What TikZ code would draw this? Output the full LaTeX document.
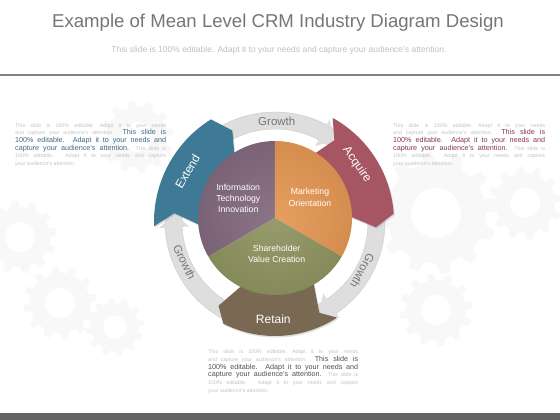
\documentclass[tikz,border=0pt]{standalone}
\usepackage{fontspec}
\setmainfont{Liberation Sans}
\usetikzlibrary{positioning}
\usetikzlibrary{shadows}

\definecolor{titlegray}{RGB}{118,118,118}
\definecolor{subgray}{RGB}{192,192,192}
\definecolor{lighttxt}{RGB}{196,196,196}
\definecolor{ringgray}{RGB}{222,222,222}
\definecolor{ringedge}{RGB}{202,202,202}
\definecolor{extendblue}{RGB}{62,122,150}
\definecolor{acquirered}{RGB}{166,85,98}
\definecolor{retainbrown}{RGB}{122,105,82}
\definecolor{itpurple}{RGB}{132,107,128}
\definecolor{mkorange}{RGB}{230,152,86}
\definecolor{svolive}{RGB}{143,149,98}
\definecolor{bluetxt}{RGB}{60,105,135}
\definecolor{redtxt}{RGB}{135,55,75}
\definecolor{darktxt}{RGB}{80,80,80}
\definecolor{cogfill}{RGB}{248,248,248}
\definecolor{barcol}{RGB}{128,128,128}
\definecolor{footcol}{RGB}{100,100,100}

\newcommand{\hl}[2]{{\color{#1}\fontsize{7.2}{7.7}\selectfont #2}}
\newcommand{\blurbline}[2]{\makebox[#1][s]{#2}\\}
\newcommand{\blurb}[2]{% width, highlight colour
  \frenchspacing
  \blurbline{#1}{This slide is 100\% editable. Adapt it to your needs}
  \blurbline{#1}{and capture your audience's attention. \hl{#2}{This slide is}}
  \blurbline{#1}{\hl{#2}{100\% editable. Adapt it to your needs and}}
  \blurbline{#1}{\hl{#2}{capture your audience's attention.} This slide is}
  \blurbline{#1}{100\% editable. Adapt it to your needs and capture}
  your audience's attention.}
% start angle, end angle, inner radius, outer radius
\newcommand{\bandpath}[4]{(#1:#4) arc[start angle=#1, end angle=#2, radius=#4]
  -- ({#2-7}:101) -- (#2:#3) arc[start angle=#2, end angle=#1, radius=#3]
  -- ({#1-7}:101) -- cycle}

\tikzset{
  cog/.pic={
    \fill[cogfill, even odd rule] (0:1)
      \foreach \ang in {0,30,...,330} {
        -- ({\ang+4}:1.22) -- ({\ang+13}:1.22) -- ({\ang+17}:1)
        arc[start angle=\ang+17, end angle=\ang+30, radius=1]
      } -- cycle (0,0) circle (0.5);
  }
}

\begin{document}
\begin{tikzpicture}
    [x=1pt, y=1pt,
      every node/.style={inner sep=0pt},
      bandlabel/.style={text=white, font=\fontsize{12}{14}\selectfont},
      growthlabel/.style={text=titlegray, font=\fontsize{11.5}{14}\selectfont},
      pielabel/.style={text=white, align=center, font=\fontsize{8.7}{11.3}\selectfont},
      blurbtext/.style={anchor=north west, align=left, text=lighttxt, font=\fontsize{5.3}{7.7}\selectfont},
      bandshadow/.style={drop shadow={opacity=0.25, shadow xshift=1pt, shadow yshift=-1.5pt}},
     ]
    \fill[white] (-275,-198) rectangle (285,222);
    \useasboundingbox (-275,-198) rectangle (285,222);

    % faint cogs behind everything
    \foreach \cx/\cy/\cs in {161/9/50, -255/-15/30, -138/85/30, -215/-81/30,
                             -160/-105/24, 250/19/30, 161/-88/30}
      \pic[scale=\cs] at (\cx,\cy) {cog};

    \node[text=titlegray, font=\fontsize{18.6}{22}\selectfont] (title) at (3,199)
      {Example of Mean Level CRM Industry Diagram Design};
    \node[text=subgray, font=\fontsize{8.5}{10}\selectfont] (subtitle) at (4,172)
      {This slide is 100\% editable. Adapt it to your needs and capture your audience's attention.};
    \draw[barcol, line width=2.5pt] (-275,147) -- (285,147);
    \fill[footcol] (-275,-198) rectangle (285,-191);

    % growth ring and its arrow tips
    \fill[ringgray, draw=ringedge, line width=0.4pt, even odd rule]
      (0,0) circle (110) (0,0) circle (93);
    \foreach \a in {182, 61, -57}
      \fill[ringgray] ({\a+1}:116) -- ({\a-7}:101) -- ({\a+1}:86) -- cycle;

    \fill[extendblue, bandshadow] \bandpath{182}{122}{76}{121};
    \fill[acquirered, bandshadow] \bandpath{61}{4}{76}{119};
    \fill[retainbrown, bandshadow] \bandpath{-57}{-117}{70}{114};

    % pie
    \coordinate (pc) at (0,4);
    \fill[itpurple] (pc) -- ++(90:77) arc[start angle=90, end angle=210, radius=77] -- cycle;
    \fill[mkorange] (pc) -- ++(-30:77) arc[start angle=-30, end angle=90, radius=77] -- cycle;
    \fill[svolive] (pc) -- ++(210:77) arc[start angle=210, end angle=330, radius=77] -- cycle;
    \shade[inner color=white, outer color=black, opacity=0.07] (pc) circle (77);

    \node[bandlabel, rotate=60] (extend) at (150:101) {Extend};
    \node[bandlabel, rotate=-55] (acquire) at (35:100) {Acquire};
    \node[bandlabel] (retain) at (-91:97) {Retain};
    \node[growthlabel] (growthtop) at (89:101) {Growth};
    \node[growthlabel, rotate=-64] (growthleft) at (204:99) {Growth};
    \node[growthlabel, rotate=-119] (growthright) at (-29:100) {Growth};

    \node[pielabel] (itinfo) at (-36.7,23.7) {Information\\Technology\\Innovation};
    \node[pielabel] (marketing) at (35,24.7) {Marketing\\Orientation};
    \node[pielabel] (shareholder) at (1.7,-32) {Shareholder\\Value Creation};

    \node[blurbtext] (blurbleft) at (-260,99) {\blurb{151pt}{bluetxt}};
    \node[blurbtext] (blurbright) at (118,99) {\blurb{152pt}{redtxt}};
    \node[blurbtext] (blurbbottom) at (-67,-127.7) {\blurb{150pt}{darktxt}};
\end{tikzpicture}
\end{document}
